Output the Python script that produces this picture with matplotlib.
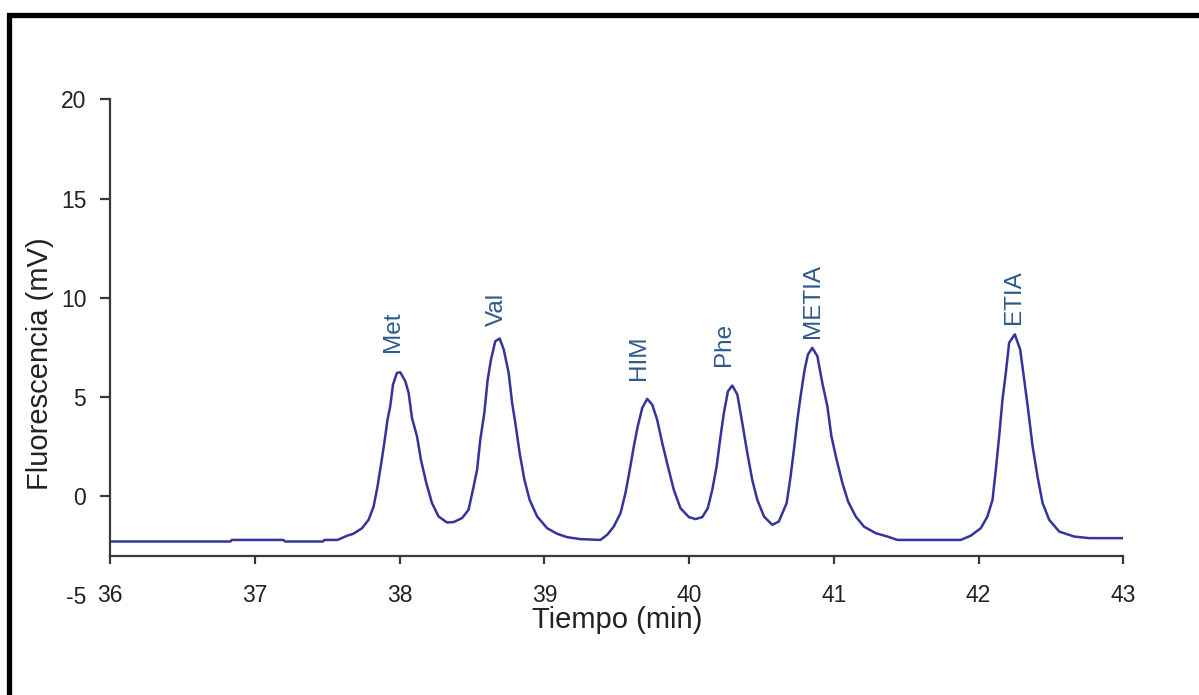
import matplotlib
matplotlib.use("Agg")
import matplotlib.pyplot as plt
from matplotlib.patches import Rectangle

# ---- data ----
time_min = [36.00, 36.83, 36.84, 37.195, 37.21, 37.47, 37.48, 37.57, 37.636, 37.68,
            37.74, 37.785, 37.82, 37.847, 37.873, 37.894, 37.916, 37.935, 37.954, 37.981,
            38.004, 38.039, 38.062, 38.085, 38.12, 38.147, 38.184, 38.223, 38.269, 38.327,
            38.373, 38.431, 38.476, 38.511, 38.535, 38.557, 38.585, 38.608, 38.631, 38.661,
            38.691, 38.719, 38.753, 38.777, 38.799, 38.829, 38.862, 38.898, 38.950, 39.019,
            39.088, 39.157, 39.249, 39.387, 39.434, 39.479, 39.526, 39.560, 39.590, 39.618,
            39.645, 39.676, 39.710, 39.745, 39.779, 39.814, 39.853, 39.894, 39.940, 39.998,
            40.044, 40.091, 40.129, 40.160, 40.190, 40.217, 40.240, 40.268, 40.298, 40.333,
            40.367, 40.402, 40.436, 40.471, 40.517, 40.575, 40.620, 40.674, 40.701, 40.724,
            40.748, 40.770, 40.798, 40.821, 40.851, 40.886, 40.920, 40.955, 40.983, 41.019,
            41.059, 41.098, 41.151, 41.208, 41.289, 41.370, 41.439, 41.877, 41.945, 42.015,
            42.061, 42.096, 42.119, 42.142, 42.165, 42.188, 42.211, 42.250, 42.287, 42.315,
            42.342, 42.373, 42.407, 42.442, 42.488, 42.557, 42.660, 42.764, 42.995]
fluor_mv = [-2.28, -2.28, -2.20, -2.20, -2.28, -2.28, -2.20, -2.20, -1.99, -1.89,
            -1.61, -1.19, -0.52, 0.49, 1.68, 2.69, 3.86, 4.54, 5.63, 6.22,
            6.25, 5.80, 5.21, 3.95, 3.02, 1.84, 0.67, -0.34, -1.02, -1.32,
            -1.30, -1.10, -0.68, 0.49, 1.34, 2.85, 4.20, 5.88, 6.89, 7.82,
            7.95, 7.40, 6.22, 4.71, 3.70, 2.18, 0.83, -0.18, -1.02, -1.61,
            -1.89, -2.06, -2.16, -2.20, -1.94, -1.53, -0.85, 0.16, 1.34, 2.52,
            3.53, 4.45, 4.91, 4.62, 3.86, 2.69, 1.51, 0.33, -0.60, -1.05,
            -1.15, -1.05, -0.60, 0.33, 1.51, 3.02, 4.20, 5.29, 5.58, 5.13,
            3.70, 2.18, 0.83, -0.18, -1.02, -1.44, -1.27, -0.34, 1.00, 2.35,
            3.86, 5.04, 6.39, 7.15, 7.48, 7.06, 5.72, 4.54, 3.02, 1.84,
            0.67, -0.26, -1.02, -1.53, -1.86, -2.03, -2.20, -2.20, -1.99, -1.61,
            -1.02, -0.18, 1.34, 3.02, 4.87, 6.22, 7.74, 8.16, 7.40, 5.88,
            4.37, 2.52, 1.00, -0.34, -1.19, -1.78, -2.03, -2.11, -2.11]

peak_names = ["Met", "Val", "HIM", "Phe", "METIA", "ETIA"]
peak_label_t = [37.956, 38.675, 39.657, 40.238, 40.853, 42.243]
peak_label_v = [7.25, 8.56, 5.88, 6.59, 8.00, 8.66]

x_ticks = [36, 37, 38, 39, 40, 41, 42, 43]
y_ticks = [-5, 0, 5, 10, 15, 20]

plt.rcParams['font.family'] = ['Liberation Sans', 'DejaVu Sans']
plt.rcParams['axes.unicode_minus'] = False

fig = plt.figure(figsize=(11.99, 6.95), dpi=100)
ax = fig.add_axes([0.0919, 0.1432, 0.845, 0.7137])

ax.plot(time_min, fluor_mv, color='#34349c', lw=1.8)

for name, t, v in zip(peak_names, peak_label_t, peak_label_v):
    ax.text(t, v, name, rotation=90, ha='center', va='bottom',
            fontsize=17.5, color='#2d5a8c')

ax.set_xlim(36, 43)
ax.set_ylim(-5, 20)
ax.set_xticks(x_ticks)
ax.set_yticks(y_ticks)

axis_col = '#383838'
for s in ['top', 'right']:
    ax.spines[s].set_visible(False)
ax.spines['left'].set_bounds(-3, 20)
ax.spines['bottom'].set_position(('data', -3))
for s in ['left', 'bottom']:
    ax.spines[s].set_color(axis_col)
    ax.spines[s].set_linewidth(1.6)

ax.tick_params(axis='y', direction='out', length=7.2, width=1.6, color=axis_col,
               labelsize=16.5, pad=10, labelcolor='#222222')
ax.tick_params(axis='x', direction='out', length=6, width=1.6, color=axis_col,
               labelsize=16.5, pad=14, labelcolor='#222222')
ax.yaxis.get_major_ticks()[0].tick1line.set_visible(False)

ax.set_xlabel('Tiempo (min)', fontsize=21, color='#222222')
ax.xaxis.set_label_coords(0.5, -0.05)
ax.xaxis.label.set_va('center')
ax.set_ylabel('Fluorescencia (mV)', fontsize=21, color='#222222')
ax.yaxis.set_label_coords(-0.069, 0.467)
ax.yaxis.label.set_va('center')

# black frame (top and left edges visible)
fig.add_artist(Rectangle((8.5 / 1199, -0.2), 1.5, 1.2 - 14.5 / 695,
                         transform=fig.transFigure, fill=False,
                         edgecolor='black', linewidth=3.8, clip_on=False))

fig.savefig('out.png', dpi=100)
